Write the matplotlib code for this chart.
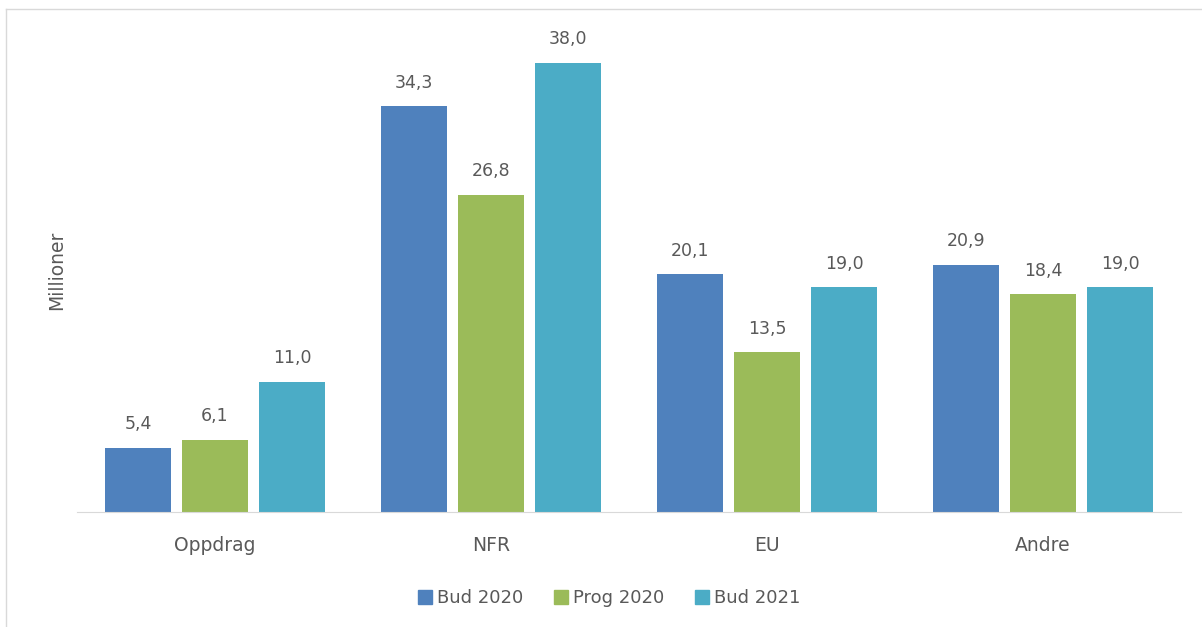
import numpy as np
import matplotlib as mpl
mpl.use('Agg')
import matplotlib.pyplot as plt
from matplotlib.lines import Line2D

categories = ['Oppdrag', 'NFR', 'EU', 'Andre']
series_names = ['Bud 2020', 'Prog 2020', 'Bud 2021']
bud_2020 = [5.4, 34.3, 20.1, 20.9]
prog_2020 = [6.1, 26.8, 13.5, 18.4]
bud_2021 = [11.0, 38.0, 19.0, 19.0]

colors = ['#4F81BD', '#9BBB59', '#4BACC6']
text_col = '#595959'

plt.rcParams['font.family'] = ['DejaVu Sans']

W, H = 1202, 627
fig = plt.figure(figsize=(W / 100, H / 100), dpi=100)
ax = fig.add_axes([77 / W, (H - 512) / H, (1181 - 77) / W, (512 - 39) / H])

x = np.arange(len(categories))
width = 0.239
offsets = [-0.279, 0, 0.279]
for vals, off, col in zip([bud_2020, prog_2020, bud_2021], offsets, colors):
    bars = ax.bar(x + off, vals, width, color=col, zorder=2)
    for b, v in zip(bars, vals):
        ax.annotate(('%.1f' % v).replace('.', ','), (b.get_x() + b.get_width() / 2, v),
                    xytext=(0, 13.5), textcoords='offset points', ha='center', va='baseline',
                    fontsize=12.5, color=text_col)

ax.set_xlim(-0.5, 3.5)
ax.set_ylim(0, 40)
ax.set_yticks([])
ax.set_xticks(x)
ax.set_xticklabels(categories, fontsize=13.5, color=text_col)
ax.tick_params(axis='x', length=0, pad=17)
for s in ['top', 'right', 'left']:
    ax.spines[s].set_visible(False)
ax.spines['bottom'].set_color('#d9d9d9')

fig.text(57 / W, 1 - 270 / H, 'Millioner', rotation=90, ha='center', va='center',
         fontsize=13.5, color=text_col)

handles = [plt.Rectangle((0, 0), 1, 1, color=c) for c in colors]
fig.legend(handles, series_names, loc='center', bbox_to_anchor=(609 / W, 1 - 598 / H),
           ncol=3, frameon=False, fontsize=13, handlelength=0.8, handleheight=0.8,
           handletextpad=0.25, columnspacing=1.7, labelcolor=text_col)

# light frame at left and top
fig.add_artist(Line2D([6 / W, 6 / W], [0, 1 - 9 / H], color='#d9d9d9', lw=1, transform=fig.transFigure))
fig.add_artist(Line2D([6 / W, 1], [1 - 9 / H, 1 - 9 / H], color='#d9d9d9', lw=1, transform=fig.transFigure))

fig.savefig('out.png', dpi=100)
